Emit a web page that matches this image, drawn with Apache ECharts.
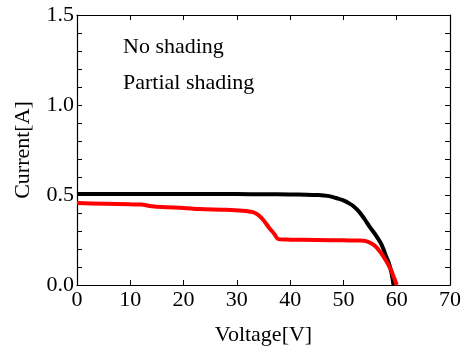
<!DOCTYPE html>
<html><head><meta charset="utf-8">
<script src="https://cdn.jsdelivr.net/npm/echarts@6/dist/echarts.min.js"></script>
<style>html,body{margin:0;padding:0;background:#fff}#c{width:464px;height:353px}</style>
</head><body><div id="c"></div>
<script>
const seriesNames = ['No shading', 'Partial shading'];
const noShadeV = [0,5,10,15,20,25,30,35,40,43,45,47,49,50,51,52,53,54,55,56,57,57.5,58,58.5,59,59.4];
const noShadeI = [0.505,0.505,0.505,0.505,0.505,0.505,0.505,0.504,0.503,0.502,0.5,0.495,0.48,0.47,0.455,0.435,0.405,0.365,0.32,0.28,0.233,0.2,0.16,0.125,0.07,0.0];
const partV = [0,5,10,12,14,16,20,23,28,31,33,34,35,36,37,37.8,40,45,50,53,54,55,56,57,58,58.9,59.5,60];
const partI = [0.455,0.452,0.448,0.447,0.438,0.433,0.428,0.422,0.418,0.413,0.405,0.39,0.36,0.32,0.285,0.255,0.252,0.25,0.248,0.247,0.245,0.235,0.215,0.18,0.135,0.085,0.04,0.0];
const xTicks = {min:0, max:70, interval:10};
const yTicks = {min:0, max:1.5, interval:0.5};

const FONT = 'Liberation Serif';
const chart = echarts.init(document.getElementById('c'));
const pair = (xs, ys) => xs.map((x, i) => [x, ys[i]]);
const tick = {show:true, inside:true, length:5, lineStyle:{color:'#000', width:1}};
const line = {show:true, onZero:false, lineStyle:{color:'#000', width:1.2}};
const minor = {show:true, splitNumber:5, length:5, lineStyle:{color:'#000', width:1}};
chart.setOption({
  animation:false,
  grid:{left:77, right:11, top:15, bottom:68},
  legend:{
    data:seriesNames, orient:'vertical', left:113, top:31, itemGap:14,
    icon:'none', itemWidth:0, itemHeight:0,
    textStyle:{fontFamily:FONT, fontSize:22, color:'#000'}
  },
  xAxis:[{
    type:'value', min:xTicks.min, max:xTicks.max, interval:xTicks.interval,
    axisLine:line, axisTick:tick, splitLine:{show:false},
    axisLabel:{fontFamily:FONT, fontSize:22, color:'#000', margin:4},
    name:'Voltage[V]', nameLocation:'middle', nameGap:39,
    nameTextStyle:{fontFamily:FONT, fontSize:22, color:'#000'}
  },{
    type:'value', position:'top', min:xTicks.min, max:xTicks.max, interval:xTicks.interval,
    axisLine:line, axisTick:tick, axisLabel:{show:false}, splitLine:{show:false}
  }],
  yAxis:[{
    type:'value', min:yTicks.min, max:yTicks.max, interval:yTicks.interval,
    axisLine:line, axisTick:tick, minorTick:minor,
    splitLine:{show:false}, minorSplitLine:{show:false},
    axisLabel:{fontFamily:FONT, fontSize:22, color:'#000', margin:3, formatter:v=>v.toFixed(1)},
    name:'Current[A]', nameLocation:'middle', nameGap:43,
    nameTextStyle:{fontFamily:FONT, fontSize:22, color:'#000'}
  },{
    type:'value', position:'right', min:yTicks.min, max:yTicks.max, interval:yTicks.interval,
    axisLine:line, axisTick:tick, minorTick:minor,
    axisLabel:{show:false}, splitLine:{show:false}, minorSplitLine:{show:false}
  }],
  series:[{
    name:seriesNames[0], type:'line', data:pair(noShadeV, noShadeI),
    showSymbol:false, smooth:0.3, color:'#000', lineStyle:{color:'#000', width:4}
  },{
    name:seriesNames[1], type:'line', data:pair(partV, partI),
    showSymbol:false, smooth:0.3, color:'#ff0000', lineStyle:{color:'#ff0000', width:4}
  }]
});
</script></body></html>
